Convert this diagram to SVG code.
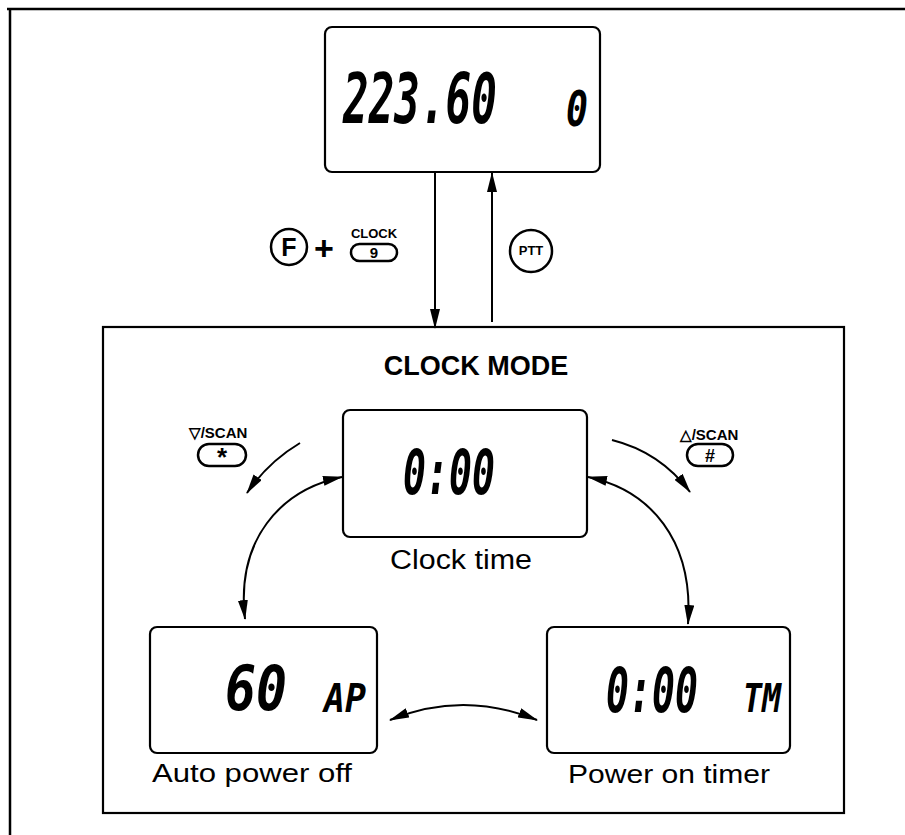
<svg xmlns="http://www.w3.org/2000/svg" width="905" height="835" viewBox="0 0 905 835">
<defs>
<marker id="ah" viewBox="0 0 20 10" refX="19" refY="5" markerWidth="20" markerHeight="10" markerUnits="userSpaceOnUse" orient="auto-start-reverse"><path d="M0,0 L20,5 L0,10 Z" fill="#000"/></marker>
</defs>
<style>
.box{fill:#fff;stroke:#000;stroke-width:2.2}
.lcd{font-family:"DejaVu Sans Mono",monospace;font-style:oblique;font-weight:bold;fill:#000}
.lbl{font-family:"Liberation Sans",Arial,sans-serif;fill:#000}
.bold{font-family:"Liberation Sans",Arial,sans-serif;font-weight:bold;fill:#000}
.key{fill:none;stroke:#000;stroke-width:2.5}
.ln{fill:none;stroke:#000;stroke-width:2}
</style>
<rect width="905" height="835" fill="#fff"/>
<path d="M7,9 H905 M10,9 V835" fill="none" stroke="#000" stroke-width="2.5"/>

<g id="frequency-display">
<rect class="box" x="325" y="27" width="275" height="145" rx="7"/>
<text class="lcd" font-size="42.6" transform="translate(343,123) scale(1,1.64)">223.60</text>
<text class="lcd" font-size="36.5" transform="translate(566,126) scale(1,1.35)">0</text>
</g>

<g id="key-f-clock">
<circle cx="289" cy="247" r="18" class="key"/>
<text class="bold" x="289" y="256" font-size="25" text-anchor="middle">F</text>
<text class="bold" x="324" y="260" font-size="34" text-anchor="middle">+</text>
<text class="bold" x="374" y="238" font-size="13" text-anchor="middle">CLOCK</text>
<rect x="351" y="244" width="46" height="17" rx="8.5" class="key"/>
<text class="bold" x="374" y="258" font-size="15" text-anchor="middle">9</text>
</g>

<g id="key-ptt">
<circle cx="531" cy="251" r="21" class="key"/>
<text class="bold" x="531" y="255" font-size="13" text-anchor="middle">PTT</text>
</g>

<g id="clock-mode">
<rect class="box" x="103" y="327" width="741" height="486"/>
<text class="bold" x="476" y="375" font-size="27" text-anchor="middle">CLOCK MODE</text>
</g>

<g id="key-down-scan">
<text class="bold" x="218" y="438" font-size="15" text-anchor="middle">▽/SCAN</text>
<rect x="198" y="444" width="48" height="22" rx="11" class="key"/>
<text class="bold" x="222" y="466" font-size="26" text-anchor="middle">*</text>
</g>

<g id="key-up-scan">
<text class="bold" x="709" y="440" font-size="15" text-anchor="middle">△/SCAN</text>
<rect x="687" y="444" width="46" height="22" rx="11" class="key"/>
<text class="bold" x="710" y="462" font-size="18" text-anchor="middle">#</text>
</g>

<g id="clock-time">
<rect class="box" x="343" y="410" width="244" height="127" rx="7"/>
<text class="lcd" font-size="38.2" transform="translate(403,494) scale(1,1.615)">0:00</text>
<text class="lbl" x="390" y="569" font-size="27" textLength="142" lengthAdjust="spacingAndGlyphs">Clock time</text>
</g>

<g id="auto-power-off">
<rect class="box" x="150" y="627" width="227" height="126" rx="7"/>
<text class="lcd" font-size="51.5" transform="translate(225,710) scale(1,1.2)">60</text>
<text class="lcd" font-size="34.9" transform="translate(324,712) scale(1,1.14)">AP</text>
<text class="lbl" x="152" y="782" font-size="26" textLength="200" lengthAdjust="spacingAndGlyphs">Auto power off</text>
</g>

<g id="power-on-timer">
<rect class="box" x="547" y="627" width="243" height="126" rx="7"/>
<text class="lcd" font-size="38.2" transform="translate(606,712) scale(1,1.615)">0:00</text>
<text class="lcd" font-size="31.6" transform="translate(743,712) scale(1,1.26)">TM</text>
<text class="lbl" x="568" y="783" font-size="26" textLength="202" lengthAdjust="spacingAndGlyphs">Power on timer</text>
</g>

<g id="connectors">
<line class="ln" x1="435" y1="172" x2="435" y2="328" marker-end="url(#ah)"/>
<line class="ln" x1="492" y1="322" x2="492" y2="173" marker-end="url(#ah)"/>
<path class="ln" d="M300,443 Q268,462 247,493" marker-end="url(#ah)"/>
<path class="ln" d="M612,440 Q660,452 690,492" marker-end="url(#ah)"/>
<path class="ln" d="M342,477 C280,490 236,540 245,619" marker-start="url(#ah)" marker-end="url(#ah)"/>
<path class="ln" d="M588,477 C650,490 694,540 688,624" marker-start="url(#ah)" marker-end="url(#ah)"/>
<path class="ln" d="M390,720 Q463,690 537,720" marker-start="url(#ah)" marker-end="url(#ah)"/>
</g>
</svg>
